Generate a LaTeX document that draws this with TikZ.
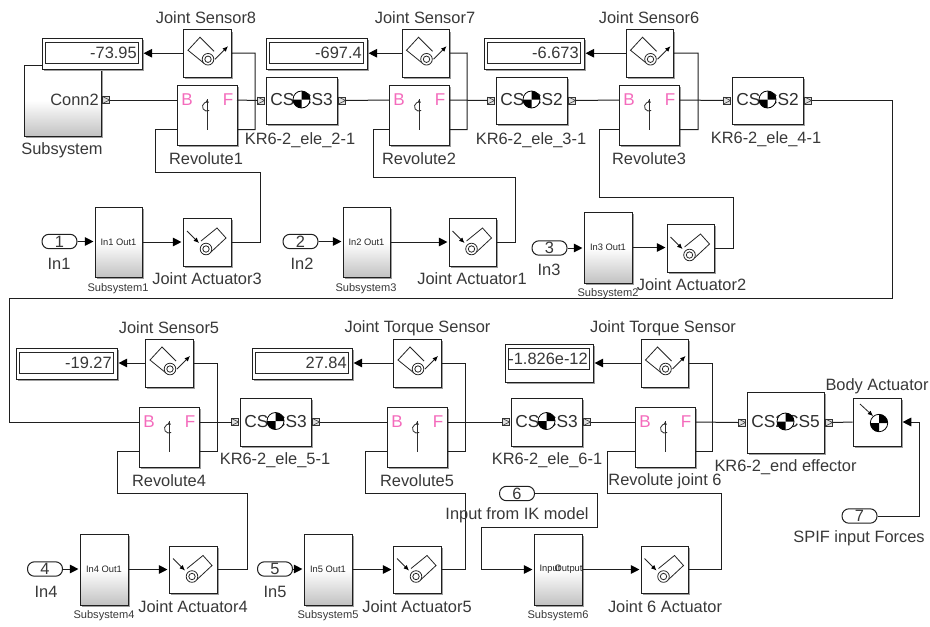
\documentclass[tikz,border=0pt]{standalone}
\usepackage{fontspec}
\setmainfont{Liberation Sans}
\usetikzlibrary{arrows.meta,calc}
\tikzset{
  blk/.style={draw=black!88,fill=white,line width=.75pt,inner sep=0pt},
  grad/.style={blk,top color=white,bottom color=black!24,middle color=white},
  wire/.style={draw=black!88,line width=.75pt},
  arr/.style={wire,shorten >=.8pt,-{Triangle[length=6.5pt,width=6.5pt,black]}},
  lab/.style={font=\fontsize{12.3}{14}\selectfont,text=black!78,inner sep=0pt},
  cslab/.style={font=\fontsize{13}{15}\selectfont,text=black!82,inner sep=0pt},
  slab/.style={font=\fontsize{8.3}{9}\selectfont,text=black!78,inner sep=0pt},
  inner/.style={font=\fontsize{7}{8}\selectfont,text=black!85,inner sep=0pt},
  port/.style={font=\fontsize{12.3}{14}\selectfont,text=black!78,draw=black!88,line width=.75pt,rounded corners=5.2pt,fill=white,inner sep=0pt,minimum width=26.25pt,minimum height=10.8pt},
  pink/.style={font=\fontsize{12.8}{15}\selectfont,text=magenta!58,inner sep=0pt},
  icon/.style={line width=.6pt,draw=black!85},
  tip/.style={icon,-{Latex[length=4pt,width=3.5pt,black]}},
}
% block from (left,top) to (right,bottom) in pixels, with its soft shadow
\newcommand{\blockat}[6][blk]{%
  \fill[black!38] ({#3+1.5},{#4+2}) rectangle ({#5+1.7},{#6+1.7});
  \node[#1,minimum width={(#5-#3)*0.75pt},minimum height={(#6-#4)*0.75pt}] (#2) at ({(#3+#5)/2},{(#4+#6)/2}) {};}
\newcommand{\chk}[3]{%
  \fill[white] ({#1},{#2}) circle (#3);
  \fill[black] ({#1},{#2}) -- ++(#3,0) arc (0:-90:#3) -- cycle;
  \fill[black] ({#1},{#2}) -- ++(-#3,0) arc (180:90:#3) -- cycle;
  \draw[black,line width=.6pt] ({#1},{#2}) circle (#3);}
\newcommand{\sensicon}[1]{\begin{scope}[shift={(#1.center)}]
  \draw[icon] (-3,10) -- (-19,-3) -- (-7,-16) -- (7,-2);
  \draw[icon,fill=white] (1,6) circle (5.8);
  \draw[icon] (1,6) circle (3.2);
  \draw[tip] (8,6) -- (21,-7);
\end{scope}}
\newcommand{\acticon}[1]{\begin{scope}[shift={(#1.center)}]
  \draw[icon] (-6,-1) -- (10,-14) -- (19,-4) -- (4,10);
  \draw[icon,fill=white] (-1,7) circle (5.8);
  \draw[icon] (-1,7) circle (3.2);
  \draw[tip] (-20,-11) -- (-8,1);
\end{scope}}
% connection square
\newcommand{\consq}[2]{\draw[line width=.6pt,black!80,fill=black!12] ({#1-3.5},{#2-3.5}) rectangle ({#1+3.5},{#2+3.5});
  \draw[line width=.45pt,black!80] ({#1-3.5},{#2-3.5}) -- ({#1+3.5},{#2}) -- ({#1-3.5},{#2+3.5});}
% revolute
\newcommand{\revolute}[3]{% name, left, top
  \blockat{#1}{#2}{#3}{#2+60}{#3+60}
  \coordinate (#1-b) at (#2,#3+15);
  \coordinate (#1-f) at (#2+60,#3+15);
  \coordinate (#1-l) at (#2,#3+44.5);
  \coordinate (#1-r) at (#2+60,#3+44.5);
  \node[pink] at (#2+10,#3+15) {B};
  \node[pink] at (#2+51,#3+15) {F};
  \draw[line width=.65pt,black!82] (#2+30,#3+14) -- (#2+30,#3+44.5);
  \draw[line width=.6pt,black!82,-{Latex[length=2.5pt,width=2.5pt]}] (#2+32.2,#3+25.5) arc (60:300:4.5);
}
% body with CS pair
\newcommand{\csbody}[7]{% name,l,t,r,b,leftlabel,rightlabel
  \blockat{#1}{#2}{#3}{#4}{#5}
  \node[cslab,anchor=west] at ({#2+4},{(#3+#5)/2-.5}) {#6};
  \node[cslab,anchor=east] at ({#4-4},{(#3+#5)/2-.5}) {#7};
  \chk{(#2+#4)/2}{(#3+#5)/2-1}{8.5}
  \consq{#2-5}{(#3+#5)/2}
  \consq{#4+5}{(#3+#5)/2}
  \coordinate (#1-w) at ({#2-8.5},{(#3+#5)/2});
  \coordinate (#1-e) at ({#4+8.5},{(#3+#5)/2});
}
% display
\newcommand{\display}[6]{% name,l,t,r,b,text
  \blockat{#1}{#2}{#3}{#4}{#5}
  \draw[line width=.75pt,black!85] (#2+3,#3+4) rectangle (#4-4,#3+25);
  \node[lab,anchor=east] at (#4-5,#3+14.5) {#6};
}
\begin{document}
\begin{tikzpicture}[x=0.75pt,y=-0.75pt]
\useasboundingbox (0,0) rectangle (930,626);
% ---- Row 1
\blockat[grad]{sub0}{24}{65}{101}{136}
\node[lab,anchor=east] at (99,100) {Conn2};
\consq{106}{100}
\coordinate (sub0-e) at (109.5,100);
\node[lab] at (62,150) {Subsystem};
\display{d1}{42}{38}{142}{69}{-73.95}
\blockat{s8}{183}{29.5}{231}{77}\sensicon{s8}
\node[lab] at (206,18) {Joint Sensor8};
\revolute{r1}{177}{85}
\node[lab] at (206,159) {Revolute1};
\csbody{e2}{266}{77}{337}{124}{CS2}{CS3}
\node[lab] at (300,140) {KR6-2\_ele\_2-1};
\blockat[grad]{q1}{95}{207}{142}{277}
\node[inner] at (118.5,242) {In1 Out1};
\node[slab] at (118,289) {Subsystem1};
\node[port] (i1) at (59.5,241.5) {1};
\node[lab] at (59,264) {In1};
\blockat{a3}{183}{218}{231}{266}\acticon{a3}
\node[lab] at (207,279) {Joint Actuator3};
\draw[arr] (s8.west) -- (s8.west -| d1.east);
\draw[wire] (s8.east) -- (255,53) |- (r1-r);
\draw[wire] (r1-l) -- (155,129.5) -- (155,172) -- (260,172) |- (a3.east);
\draw[arr] (i1.east) -- (i1.east -| q1.west);
\draw[arr] (q1.east) -- (q1.east -| a3.west);
\draw[wire] (sub0-e) -- (r1-b);
\draw[wire] (r1-f) -- (e2-w);
% group 2
\display{d2}{266}{38}{367}{69}{-697.4}
\blockat{s7}{402}{29.5}{449}{77}\sensicon{s7}
\node[lab] at (425,18) {Joint Sensor7};
\revolute{r2}{389}{85}
\node[lab] at (419,159) {Revolute2};
\csbody{e3}{496}{77}{567}{124}{CS2}{CS2}
\node[lab] at (531,140) {KR6-2\_ele\_3-1};
\blockat[grad]{q3}{343}{207}{390}{277}
\node[inner] at (366.5,242) {In2 Out1};
\node[slab] at (366,288.5) {Subsystem3};
\node[port] (i2) at (300.5,241.5) {2};
\node[lab] at (302,264) {In2};
\blockat{a1}{449}{218}{496}{266}\acticon{a1}
\node[lab] at (472,279) {Joint Actuator1};
\draw[arr] (s7.west) -- (s7.west -| d2.east);
\draw[wire] (s7.east) -- (467,53) |- (r2-r);
\draw[wire] (r2-l) -- (373,129.5) -- (373,177) -- (515,177) |- (a1.east);
\draw[arr] (i2.east) -- (i2.east -| q3.west);
\draw[arr] (q3.east) -- (q3.east -| a1.west);
\draw[wire] (e2-e) -- (r2-b);
\draw[wire] (r2-f) -- (e3-w);
% group 3
\display{d3}{484}{38}{584}{69}{-6.673}
\blockat{s6}{626}{29.5}{673}{77}\sensicon{s6}
\node[lab] at (649,18) {Joint Sensor6};
\revolute{r3}{619}{85}
\node[lab] at (649,159) {Revolute3};
\csbody{e4}{732}{77}{803}{124}{CS2}{CS2}
\node[lab] at (766,139) {KR6-2\_ele\_4-1};
\blockat[grad]{q2}{584}{212}{632}{283}
\node[inner] at (608,247.5) {In3 Out1};
\node[slab] at (608,294) {Subsystem2};
\node[port] (i3) at (549.5,248) {3};
\node[lab] at (549,270) {In3};
\blockat{a2}{667}{224}{714}{272}\acticon{a2}
\node[lab] at (691.5,285) {Joint Actuator2};
\draw[arr] (s6.west) -- (s6.west -| d3.east);
\draw[wire] (s6.east) -- (698,53) |- (r3-r);
\draw[wire] (r3-l) -- (599,129.5) -- (599,197) -- (733,197) |- (a2.east);
\draw[arr] (i3.east) -- (i3.east -| q2.west);
\draw[arr] (q2.east) -- (q2.east -| a2.west);
\draw[wire] (e3-e) -- (r3-b);
\draw[wire] (r3-f) -- (e4-w);
% long wire between the rows
\revolute{r4}{139}{407}
\draw[wire] (e4-e) -- (892,100.5) -- (892,298) -- (9,298) -- (9,422) -- (r4-b);
% ---- Row 2
\display{d4}{16}{348}{117}{379}{-19.27}
\blockat{s5}{145}{339}{193}{387}\sensicon{s5}
\node[lab] at (169,328) {Joint Sensor5};
\node[lab] at (169,481) {Revolute4};
\csbody{e5}{240}{398}{311}{446}{CS2}{CS3}
\node[lab] at (275,460) {KR6-2\_ele\_5-1};
\blockat[grad]{q4}{80}{534}{128}{605}
\node[inner] at (104,569) {In4 Out1};
\node[slab] at (104,616) {Subsystem4};
\node[port] (i4) at (45,569) {4};
\node[lab] at (46,592) {In4};
\blockat{a4}{169}{546}{217}{593}\acticon{a4}
\node[lab] at (193,607) {Joint Actuator4};
\draw[arr] (s5.west) -- (s5.west -| d4.east);
\draw[wire] (s5.east) -- (217,363) |- (r4-r);
\draw[wire] (r4-l) -- (117,451.5) -- (117,493) -- (247,493) |- (a4.east);
\draw[arr] (i4.east) -- (i4.east -| q4.west);
\draw[arr] (q4.east) -- (q4.east -| a4.west);
\draw[wire] (r4-f) -- (e5-w);
% group 5
\display{d5}{252}{348}{352}{379}{27.84}
\blockat{s9}{393}{339}{441}{387}\sensicon{s9}
\node[lab] at (417.5,328) {Joint Torque Sensor};
\revolute{r5}{387}{407}
\node[lab] at (417,481) {Revolute5};
\csbody{e6}{511}{398}{582}{446}{CS2}{CS3}
\node[lab] at (547,460) {KR6-2\_ele\_6-1};
\blockat[grad]{q5}{304}{534}{352}{605}
\node[inner] at (328,569) {In5 Out1};
\node[slab] at (328,616) {Subsystem5};
\node[port] (i5) at (275,569) {5};
\node[lab] at (275,592) {In5};
\blockat{a5}{393}{546}{441}{593}\acticon{a5}
\node[lab] at (417,607) {Joint Actuator5};
\draw[arr] (s9.west) -- (s9.west -| d5.east);
\draw[wire] (s9.east) -- (465,363) |- (r5-r);
\draw[wire] (r5-l) -- (365,451.5) -- (365,493) -- (465,493) |- (a5.east);
\draw[arr] (i5.east) -- (i5.east -| q5.west);
\draw[arr] (q5.east) -- (q5.east -| a5.west);
\draw[wire] (e5-e) -- (r5-b);
\draw[wire] (r5-f) -- (e6-w);
% group 6
\display{d6}{505}{344}{593}{382}{-1.826e-12}
\blockat{s10}{641}{339}{688}{387}\sensicon{s10}
\node[lab] at (663,328) {Joint Torque Sensor};
\revolute{r6}{635}{407}
\node[lab] at (665,481) {Revolute joint 6};
\csbody{e7}{747}{392}{824}{453}{CS2}{CS5}
\node[lab] at (785.5,467) {KR6-2\_end effector};
\blockat{b1}{853}{398}{901}{446}
\chk{879}{423}{8.7}
\draw[tip] (860,404) -- (873,416);
\node[lab] at (877,386) {Body Actuator};
\blockat[grad]{q6}{534}{534}{582}{605}
\node[inner] at (550,569) {Input};
\node[inner] at (568.5,569) {Output};
\node[slab] at (558,616) {Subsystem6};
\node[port] (i6) at (517,493.5) {6};
\node[lab] (t6) at (517,515) {Input from IK model};
\blockat{a6}{641}{546}{688}{593}\acticon{a6}
\node[lab] at (665,607) {Joint 6 Actuator};
\node[port] (i7) at (859.5,516) {7};
\node[lab] at (859,538) {SPIF input Forces};
\draw[arr] (s10.west) -- (s10.west -| d6.east);
\draw[wire] (s10.east) -- (712,363) |- (r6-r);
\draw[wire] (r6-l) -- (607,451.5) -- (607,493) -- (721,493) |- (a6.east);
\draw[wire] (i6.east) -| (597,527) -- (481,527);
\draw[arr] (481,527) |- (q6.west);
\draw[arr] (q6.east) -- (q6.east -| a6.west);
\draw[wire] (e6-e) -- (r6-b);
\draw[wire] (r6-f) -- (e7-w);
\draw[wire] (e7-e) -- (b1.west);
\draw[arr] (i7.east) -- (919,516) |- (b1.east);
\end{tikzpicture}
\end{document}
